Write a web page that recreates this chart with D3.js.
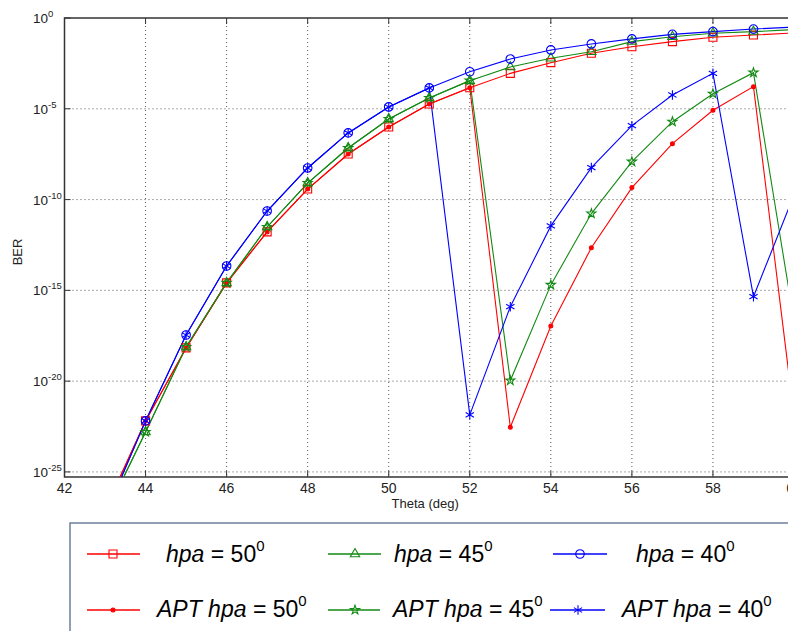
<!DOCTYPE html>
<html>
<head>
<meta charset="utf-8">
<script src="https://cdn.jsdelivr.net/npm/d3@7"></script>
<style>
body { margin: 0; background: #fff; }
svg { display: block; }
.ax { font-family: "Liberation Sans Narrow", "Liberation Sans", Arial, sans-serif; fill: #222; }
.lg { font-family: "Liberation Sans", Arial, sans-serif; fill: #000; }
</style>
</head>
<body>
<div id="plot"></div>
<script>
// theta (deg)
var theta = [43, 44, 45, 46, 47, 48, 49, 50, 51, 52, 53, 54, 55, 56, 57, 58, 59, 60];

// log10(BER)
var hpa50 = [-27.1, -22.19, -18.17, -14.59, -11.78, -9.42, -7.49, -6.00, -4.74, -3.84, -3.05, -2.46, -1.94, -1.58, -1.30, -1.06, -0.94, -0.82];
var hpa45 = [-27.4, -22.80, -18.12, -14.59, -11.51, -9.09, -7.16, -5.56, -4.41, -3.45, -2.70, -2.22, -1.86, -1.30, -1.03, -0.84, -0.75, -0.64];
var hpa40 = [-27.4, -22.19, -17.46, -13.66, -10.63, -8.26, -6.33, -4.90, -3.85, -2.96, -2.26, -1.76, -1.43, -1.15, -0.90, -0.75, -0.61, -0.50];
var apt50 = [-27.1, -22.19, -18.17, -14.59, -11.78, -9.42, -7.49, -6.00, -4.74, -3.84, -22.54, -16.96, -12.65, -9.34, -6.92, -5.08, -3.78, -21.9];
var apt45 = [-27.4, -22.80, -18.12, -14.59, -11.51, -9.09, -7.16, -5.56, -4.41, -3.45, -19.97, -14.70, -10.77, -7.91, -5.71, -4.17, -3.01, -16.7];
var apt40 = [-27.4, -22.19, -17.46, -13.66, -10.63, -8.26, -6.33, -4.90, -3.85, -21.86, -15.90, -11.45, -8.24, -5.93, -4.24, -3.05, -15.35, -9.75];

var xTicks = [42, 44, 46, 48, 50, 52, 54, 56, 58, 60];
var yTickExp = [0, -5, -10, -15, -20, -25];
var legendPrefix = ["", "", "", "APT ", "APT ", "APT "];
var legendAngle = [50, 45, 40, 50, 45, 40];

var W = 788, H = 631;
var margin = {t: 18, l: 64.5};
var plotW = 729.5, plotH = 459;

var svg = d3.select('#plot').append('svg').attr('width', W).attr('height', H);
svg.append('rect').attr('width', W).attr('height', H).attr('fill', '#fff');

var scaleX = d3.scaleLinear().domain([42, 60]).range([0, plotW]);
var scaleY = d3.scaleLog().domain([Math.pow(10, -25.28), 1]).range([plotH, 0]);

var g = svg.append('g').attr('transform', 'translate(' + margin.l + ',' + margin.t + ')');

svg.append('defs').append('clipPath').attr('id', 'clip')
    .append('rect').attr('x', margin.l).attr('y', margin.t).attr('width', plotW).attr('height', plotH);

// grid
g.selectAll('.gx').data(xTicks.slice(1)).enter().append('line')
    .attr('x1', function(d) { return scaleX(d); }).attr('x2', function(d) { return scaleX(d); })
    .attr('y1', 0).attr('y2', plotH)
    .attr('stroke', '#555').attr('stroke-dasharray', '1,3');
g.selectAll('.gy').data(yTickExp.slice(1)).enter().append('line')
    .attr('y1', function(d) { return scaleY(Math.pow(10, d)); }).attr('y2', function(d) { return scaleY(Math.pow(10, d)); })
    .attr('x1', 0).attr('x2', plotW)
    .attr('stroke', '#555').attr('stroke-dasharray', '1,3');

// ticks
var tk = 6;
xTicks.forEach(function(d) {
    g.append('line').attr('x1', scaleX(d)).attr('x2', scaleX(d)).attr('y1', plotH).attr('y2', plotH - tk).attr('stroke', '#333');
    g.append('line').attr('x1', scaleX(d)).attr('x2', scaleX(d)).attr('y1', 0).attr('y2', tk).attr('stroke', '#333');
    g.append('text').attr('class', 'ax').attr('x', scaleX(d)).attr('y', plotH + 16)
        .attr('text-anchor', 'middle').style('font-size', '14px').text(d);
});
yTickExp.forEach(function(d) {
    var yy = scaleY(Math.pow(10, d));
    g.append('line').attr('x1', 0).attr('x2', tk).attr('y1', yy).attr('y2', yy).attr('stroke', '#333');
    var t = g.append('text').attr('class', 'ax').attr('x', 33 - margin.l).attr('y', yy + 5).style('font-size', '13.5px');
    t.append('tspan').text('10');
    t.append('tspan').attr('dy', -6).style('font-size', '9.5px').text(d);
});

// axis box (left, top, bottom)
g.append('path').attr('d', 'M' + plotW + ',0H0V' + plotH + 'H' + plotW)
    .attr('fill', 'none').attr('stroke', '#333').attr('stroke-width', 1.5);

g.append('text').attr('class', 'ax').attr('x', scaleX(50.9)).attr('y', plotH + 31)
    .attr('text-anchor', 'middle').style('font-size', '13px').text('Theta (deg)');
svg.append('text').attr('class', 'ax').attr('transform', 'translate(22,252) rotate(-90)')
    .attr('text-anchor', 'middle').style('font-size', '13px').text('BER');

// marker shapes
var asterisk = d3.symbolAsterisk || {
    draw: function(ctx, size) {
        var r = Math.sqrt(size) * 0.6;
        for (var i = 0; i < 4; i++) {
            var a = i * Math.PI / 4;
            ctx.moveTo(-r * Math.cos(a), -r * Math.sin(a));
            ctx.lineTo(r * Math.cos(a), r * Math.sin(a));
        }
    }
};
var series = [
    {v: hpa50, c: '#ff0000', sym: d3.symbolSquare, size: 64, fill: 'none'},
    {v: hpa45, c: '#138a13', sym: d3.symbolTriangle, size: 38, fill: 'none'},
    {v: hpa40, c: '#0000ff', sym: d3.symbolCircle, size: 58, fill: 'none'},
    {v: apt50, c: '#ff0000', sym: d3.symbolCircle, size: 12, fill: '#ff0000'},
    {v: apt45, c: '#138a13', sym: d3.symbolStar, size: 26, fill: 'none'},
    {v: apt40, c: '#0000ff', sym: asterisk, size: 64, fill: 'none'}
];

var line = d3.line()
    .x(function(d, i) { return scaleX(theta[i]); })
    .y(function(d) { return scaleY(Math.pow(10, d)); });

var marks = svg.append('g').attr('clip-path', 'url(#clip)')
    .append('g').attr('transform', 'translate(' + margin.l + ',' + margin.t + ')');

series.forEach(function(s) {
    marks.append('path').datum(s.v).attr('d', line)
        .attr('fill', 'none').attr('stroke', s.c).attr('stroke-width', 1.1);
});
series.forEach(function(s) {
    marks.selectAll(null).data(s.v).enter().append('path')
        .attr('transform', function(d, i) { return 'translate(' + scaleX(theta[i]) + ',' + scaleY(Math.pow(10, d)) + ')'; })
        .attr('d', d3.symbol().type(s.sym).size(s.size))
        .attr('fill', s.fill).attr('stroke', s.c).attr('stroke-width', 1.1);
});

// legend
svg.append('rect').attr('x', 70).attr('y', 523).attr('width', 760).attr('height', 140)
    .attr('fill', '#fff').attr('stroke', '#6f7f9a').attr('stroke-width', 1.5);

var legPos = [
    {x1: 87, x2: 140, m: 113, tx: 166, y: 554, ty: 562},
    {x1: 328, x2: 381, m: 355, tx: 394, y: 554, ty: 562},
    {x1: 553, x2: 607, m: 580, tx: 636, y: 554, ty: 562},
    {x1: 87, x2: 140, m: 113, tx: 157, y: 610, ty: 617},
    {x1: 328, x2: 380, m: 355, tx: 393, y: 610, ty: 617},
    {x1: 550, x2: 605, m: 578, tx: 622, y: 610, ty: 617}
];
series.forEach(function(s, i) {
    var p = legPos[i];
    svg.append('line').attr('x1', p.x1).attr('x2', p.x2).attr('y1', p.y).attr('y2', p.y)
        .attr('stroke', s.c).attr('stroke-width', 1.3);
    svg.append('path').attr('transform', 'translate(' + p.m + ',' + p.y + ')')
        .attr('d', d3.symbol().type(s.sym).size(s.size))
        .attr('fill', s.fill).attr('stroke', s.c).attr('stroke-width', 1.1);
    var t = svg.append('text').attr('class', 'lg').attr('x', p.tx).attr('y', p.ty).style('font-size', '23px');
    t.append('tspan').style('font-style', 'italic').text(legendPrefix[i] + 'hpa');
    t.append('tspan').text(' = ' + legendAngle[i]);
    t.append('tspan').attr('dy', -11).style('font-size', '15px').text('0');
});
</script>
</body>
</html>
